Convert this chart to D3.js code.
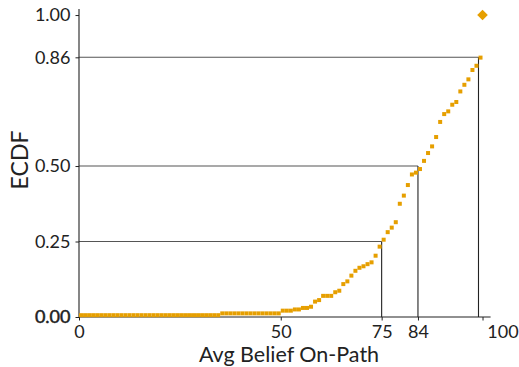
<!DOCTYPE html>
<html>
<head>
<meta charset="utf-8">
<script src="https://cdn.jsdelivr.net/npm/d3@7"></script>
<style>
  body { margin: 0; background: #fff; }
  text { font-family: Lato, "Open Sans", sans-serif; }
</style>
</head>
<body>
<script>
// bin centres of the averaged belief (percent)
var beliefs = [
  0.5, 1.5, 2.5, 3.5, 4.5, 5.5, 6.5, 7.5, 8.5, 9.5,
  10.5, 11.5, 12.5, 13.5, 14.5, 15.5, 16.5, 17.5, 18.5, 19.5,
  20.5, 21.5, 22.5, 23.5, 24.5, 25.5, 26.5, 27.5, 28.5, 29.5,
  30.5, 31.5, 32.5, 33.5, 34.5, 35.5, 36.5, 37.5, 38.5, 39.5,
  40.5, 41.5, 42.5, 43.5, 44.5, 45.5, 46.5, 47.5, 48.5, 49.5,
  50.5, 51.5, 52.5, 53.5, 54.5, 55.5, 56.5, 57.5, 58.5, 59.5,
  60.5, 61.5, 62.5, 63.5, 64.5, 65.5, 66.5, 67.5, 68.5, 69.5,
  70.5, 71.5, 72.5, 73.5, 74.5, 75.5, 76.5, 77.5, 78.5, 79.5,
  80.5, 81.5, 82.5, 83.5, 84.5, 85.5, 86.5, 87.5, 88.5, 89.5,
  90.5, 91.5, 92.5, 93.5, 94.5, 95.5, 96.5, 97.5, 98.5, 99.5
];
var ecdf = [
  0.006, 0.006, 0.006, 0.006, 0.006, 0.006, 0.006, 0.006, 0.006, 0.006,
  0.006, 0.006, 0.006, 0.006, 0.006, 0.006, 0.006, 0.006, 0.006, 0.006,
  0.006, 0.006, 0.006, 0.006, 0.006, 0.006, 0.006, 0.006, 0.006, 0.006,
  0.006, 0.006, 0.006, 0.006, 0.006, 0.012, 0.012, 0.012, 0.012, 0.012,
  0.012, 0.012, 0.012, 0.012, 0.012, 0.012, 0.012, 0.012, 0.012, 0.012,
  0.021, 0.021, 0.021, 0.025, 0.025, 0.030, 0.030, 0.034, 0.051, 0.056,
  0.070, 0.070, 0.070, 0.082, 0.087, 0.109, 0.118, 0.137, 0.153, 0.163,
  0.168, 0.175, 0.181, 0.203, 0.233, 0.256, 0.281, 0.296, 0.314, 0.375,
  0.402, 0.437, 0.472, 0.478, 0.490, 0.517, 0.543, 0.565, 0.596, 0.646,
  0.672, 0.681, 0.703, 0.712, 0.747, 0.769, 0.787, 0.818, 0.832, 0.859
];
// the single point at the end of the curve
var endPoint = { x: 100, y: 1.0 };

// quantile guide lines
var guides = [
  { x: 75, y: 0.25 },
  { x: 84, y: 0.50 },
  { x: 99, y: 0.86 }
];
var xTicks = [0, 50, 75, 84, 100];
var yTicks = [0, 0.25, 0.5, 0.86, 1];

var width = 519, height = 367;
var svg = d3.select("body").append("svg")
    .attr("width", width)
    .attr("height", height);

var x = d3.scaleLinear().domain([0, 102]).range([79, 490.6]);
var y = d3.scaleLinear().domain([0, 1.02]).range([317, 9]);

var guideG = svg.append("g");
guides.forEach(function (g) {
    guideG.append("line")
        .attr("x1", x(0)).attr("x2", x(g.x))
        .attr("y1", y(g.y)).attr("y2", y(g.y))
        .style("stroke", "#555").style("stroke-width", 1.1);
    guideG.append("line")
        .attr("x1", x(g.x)).attr("x2", x(g.x))
        .attr("y1", y(0)).attr("y2", y(g.y))
        .style("stroke", "#222").style("stroke-width", 1.1);
});

var yAxis = svg.append("g")
    .attr("transform", "translate(" + x(0) + ",0)")
    .call(d3.axisLeft(y).tickValues(yTicks).tickFormat(d3.format(".2f"))
        .tickSize(3.5).tickPadding(5));
var xAxis = svg.append("g")
    .attr("transform", "translate(0," + y(0) + ")")
    .call(d3.axisBottom(x).tickValues(xTicks).tickFormat(d3.format("d"))
        .tickSize(3.5).tickPadding(5));

[xAxis, yAxis].forEach(function (a) {
    a.select(".domain").attr("d", null);
    a.selectAll(".tick line").style("stroke", "#222");
    a.selectAll("text").style("font-size", "18px").style("fill", "#222")
        .style("font-family", "Lato, 'Open Sans', sans-serif");
});
// the "100" label sits to the right of its tick
xAxis.selectAll(".tick").filter(function (d) { return d === 100; })
    .select("text").attr("dx", 20);
// "0.00" is printed twice in the original, so it reads heavier
yAxis.selectAll(".tick").filter(function (d) { return d === 0; })
    .select("text").style("stroke", "#222").style("stroke-width", 0.5);

// spines
svg.append("line").attr("x1", x(0)).attr("x2", x(0)).attr("y1", y(1.02)).attr("y2", y(0) + 0.5)
    .style("stroke", "#222").style("stroke-width", 1.1);
svg.append("line").attr("x1", x(0)).attr("x2", x(102)).attr("y1", y(0)).attr("y2", y(0))
    .style("stroke", "#222").style("stroke-width", 1.1);

// data points
svg.append("g").selectAll("rect")
    .data(beliefs)
    .enter().append("rect")
    .attr("x", function (d) { return x(d) - 2; })
    .attr("y", function (d, i) { return y(ecdf[i]) - 2; })
    .attr("width", 4)
    .attr("height", 4)
    .attr("fill", "#E69F00");

svg.append("path")
    .attr("d", d3.symbol().type(d3.symbolDiamond2).size(72)())
    .attr("transform", "translate(" + x(endPoint.x) + "," + y(endPoint.y) + ")")
    .attr("fill", "#E69F00");

svg.append("text")
    .attr("x", 289).attr("y", 362)
    .attr("text-anchor", "middle")
    .style("font-size", "21.5px").style("fill", "#222")
    .text("Avg Belief On-Path");

svg.append("text")
    .attr("transform", "translate(28,160) rotate(-90)")
    .attr("text-anchor", "middle")
    .style("font-size", "23px").style("fill", "#222")
    .text("ECDF");
</script>
</body>
</html>
